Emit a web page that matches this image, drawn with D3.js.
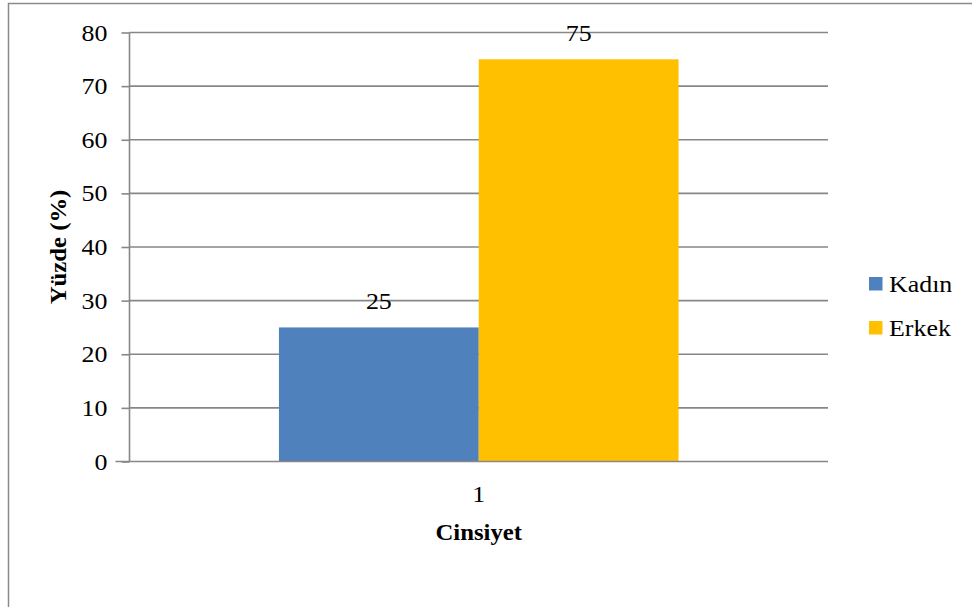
<!DOCTYPE html>
<html>
<head>
<meta charset="utf-8">
<script src="https://cdn.jsdelivr.net/npm/d3@7"></script>
<style>
  html, body { margin: 0; padding: 0; background: #fff; }
  svg { display: block; }
</style>
</head>
<body>
<svg id="chart" width="972" height="607"></svg>
<script>
// Gender distribution (percent)
const categories = ["1"];
const seriesNames = ["Kadın", "Erkek"];
const seriesColors = ["#4f81bd", "#ffc000"];
const kadinValues = [25];
const erkekValues = [75];
const yTicks = [0, 10, 20, 30, 40, 50, 60, 70, 80];
const yTitle = "Yüzde (%)";
const xTitle = "Cinsiyet";

const seriesValues = [kadinValues, erkekValues];

const W = 972, H = 607;
const plot = { left: 129.5, right: 828, top: 32.5, bottom: 461.5 };
const gridColor = "#878787";
const fontFamily = "Liberation Serif";
const fontSize = 24;
const stretch = 1.08;

const svg = d3.select("#chart");

// outer chart frame
svg.append("rect")
  .attr("x", 8.5).attr("y", 3.5)
  .attr("width", W + 20).attr("height", H + 20)
  .attr("fill", "#fff")
  .attr("stroke", "#8a8a8a").attr("stroke-width", 1.5);

const x0 = d3.scaleBand().domain(categories)
  .range([plot.left, plot.right]).paddingInner(0).paddingOuter(0);
const x1 = d3.scaleBand().domain(seriesNames)
  .range([0, x0.bandwidth()]).paddingOuter(0.748).paddingInner(0);
const y = d3.scaleLinear().domain([0, 80]).range([plot.bottom, plot.top]);

// helper: horizontally stretched text
function label(g, px, py, str, anchor, opts = {}) {
  return g.append("g")
    .attr("transform", `translate(${px},${py}) rotate(${opts.rot || 0}) scale(${opts.sx || stretch},1)`)
    .append("text")
    .attr("text-anchor", anchor)
    .attr("font-family", fontFamily)
    .attr("font-size", opts.size || fontSize)
    .attr("font-weight", opts.bold ? "bold" : "normal")
    .attr("fill", "#000")
    .text(str);
}

// horizontal gridlines
svg.append("g")
  .selectAll("line").data(yTicks.filter(d => d > 0)).join("line")
  .attr("x1", plot.left).attr("x2", plot.right)
  .attr("y1", d => y(d)).attr("y2", d => y(d))
  .attr("stroke", gridColor).attr("stroke-width", 1.6);

// bars
seriesValues.forEach((vals, si) => {
  svg.append("g").selectAll("rect").data(vals).join("rect")
    .attr("x", (d, i) => x0(categories[i]) + x1(seriesNames[si]))
    .attr("width", x1.bandwidth())
    .attr("y", d => y(d))
    .attr("height", d => y(0) - y(d))
    .attr("fill", seriesColors[si]);
});

// y axis
const yAxis = d3.axisLeft(y).tickValues(yTicks).tickSize(8).tickPadding(0).tickFormat(() => "");
const yg = svg.append("g").attr("transform", `translate(${plot.left},0)`).call(yAxis);
yg.select(".domain").attr("stroke", gridColor).attr("stroke-width", 1.6).attr("d", `M0,${plot.top}V${plot.bottom}`);
yg.selectAll(".tick line").attr("stroke", gridColor).attr("stroke-width", 1.6);

// y tick labels
const tl = svg.append("g");
yTicks.forEach(v => label(tl, 107.5, y(v) + 8, String(v), "end"));

// x axis baseline
const xAxis = d3.axisBottom(x0).tickSize(0).tickFormat(() => "");
const xg = svg.append("g").attr("transform", `translate(0,${plot.bottom})`).call(xAxis);
xg.select(".domain").attr("stroke", gridColor).attr("stroke-width", 1.6).attr("d", `M${plot.left - 14},0H${plot.right}`);

// category labels
categories.forEach(c => label(svg, x0(c) + x0.bandwidth() / 2, 502, c, "middle"));

// axis titles
label(svg, x0(categories[0]) + x0.bandwidth() / 2, 540, xTitle, "middle", { bold: true, sx: 1.03 });
label(svg, 66, 247, yTitle, "middle", { bold: true, sx: 1.03, rot: -90 });

// value labels
seriesValues.forEach((vals, si) => {
  vals.forEach((v, i) => {
    label(svg, x0(categories[i]) + x1(seriesNames[si]) + x1.bandwidth() / 2, y(v) - 18, String(v), "middle");
  });
});

// legend
const legendY = [284, 328];
seriesNames.forEach((n, i) => {
  svg.append("rect").attr("x", 869).attr("y", legendY[i] - 7)
    .attr("width", 13.5).attr("height", 13.5).attr("fill", seriesColors[i]);
  label(svg, 889, legendY[i] + 8, n, "start");
});
</script>
</body>
</html>
